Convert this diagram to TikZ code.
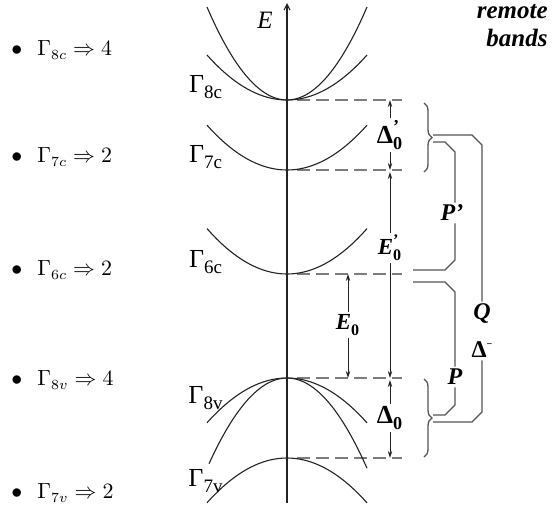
\documentclass[tikz,border=0pt]{standalone}
\usepackage{amsmath}
\usepackage{fontspec}
\newfontfamily\lblfont{Liberation Serif}
\usetikzlibrary{arrows.meta,decorations.pathreplacing}
\definecolor{BandGray}{RGB}{35,35,35}
\definecolor{DashGray}{RGB}{125,125,125}
\definecolor{LinkGray}{RGB}{85,85,85}

% band labels and gap labels
\newcommand{\gam}[1]{$\text{\lblfont\fontsize{13}{15}\selectfont Γ}_{\text{\lblfont\fontsize{9.5}{11}\selectfont #1}}$}
\newcommand{\gaplbl}[3]{$\text{\lblfont\bfseries #1}^{\text{\lblfont\bfseries #2}}_{\text{\lblfont\bfseries #3}}$}

\begin{document}
\begin{tikzpicture}[x=0.5pt,y=-0.5pt,
    band/.style={BandGray, line width=0.55pt},
    level/.style={DashGray, line width=0.6pt, dash pattern=on 6.5pt off 3pt},
    gap/.style={BandGray, line width=0.45pt, -{Stealth[length=3.5pt,width=2.2pt]}},
    link/.style={LinkGray, line width=0.65pt},
    item/.style={anchor=west, font=\fontsize{10.5}{12}\selectfont, inner sep=0pt},
    lbl/.style={font=\lblfont\fontsize{11.5}{13}\selectfont, inner sep=1pt}]
  \useasboundingbox (0,0) rectangle (552,509);

  % energy axis
  \coordinate (axbot) at (287,503);
  \coordinate (axtop) at (287,3);
  \draw[band, -{Straight Barb[length=3pt,width=3pt]}] (axbot) -- (axtop);
  \node[lbl, font=\lblfont\itshape\fontsize{12.5}{14}\selectfont] (elbl) at (265,20) {E};

  % band extrema and dashed levels
  \foreach \nm/\py in {g8c/100,g7c/170,g6c/274,g8v/378,g7v/458} {
    \coordinate (\nm) at (287,\py);
    \coordinate (\nm R) at (402,\py);
    \draw[level] ([xshift=5pt]\nm) -- (\nm R);
  }

  % conduction bands
  \draw[band] plot[domain=-80:80, smooth, samples=41] ({287+\x},{100-0.01453*\x*\x});
  \draw[band] plot[domain=-80:80, smooth, samples=41] ({287+\x},{100-0.00703*\x*\x});
  \draw[band] plot[domain=-80:80, smooth, samples=41] ({287+\x},{170-0.0070*\x*\x});
  \draw[band] plot[domain=-80:80, smooth, samples=41] ({287+\x},{274-0.0071*\x*\x});
  % valence bands
  \draw[band] plot[domain=-80:80, smooth, samples=41] ({287+\x},{378+0.0070*\x*\x});
  \draw[band] plot[domain=-78:80, smooth, samples=41] ({287+\x},{378+0.0141*\x*\x});
  \draw[band] plot[domain=-80:80, smooth, samples=41] ({287+\x},{458+0.0070*\x*\x});

  % band names
  \node[inner sep=0pt] (l8c) at (206,87) {\gam{8c}};
  \node[inner sep=0pt] (l7c) at (206,157) {\gam{7c}};
  \node[inner sep=0pt] (l6c) at (206,262) {\gam{6c}};
  \node[inner sep=0pt] (l8v) at (206,398) {\gam{8v}};
  \node[inner sep=0pt] (l7v) at (206,481) {\gam{7v}};

  % degeneracies
  \foreach \nm/\sym/\deg/\py in {i8c/8c/4/50, i7c/7c/2/157, i6c/6c/2/270, i8v/8v/4/380, i7v/7v/2/493}
    \node[item] (\nm) at (11,\py) {$\bullet$\hspace{7.5pt}$\Gamma_{\sym}\Rightarrow \deg$};

  % gaps
  \node[lbl, font=\lblfont\fontsize{13}{15}\selectfont] (d0p) at (390,135) {\gaplbl{Δ}{’}{0}};
  \draw[gap] (d0p) -- (g8c -| d0p);
  \draw[gap] (d0p) -- (g7c -| d0p);
  \node[lbl] (e0p) at (390,248) {\gaplbl{\itshape E}{’}{0}};
  \draw[gap] (e0p) -- ([yshift=-1pt]g7c -| e0p);
  \draw[gap] (e0p) -- (g8v -| e0p);
  \node[lbl, font=\lblfont\fontsize{13}{15}\selectfont] (d0) at (390,418) {\gaplbl{Δ}{}{0}};
  \draw[gap] (d0) -- ([yshift=-1pt]g8v -| d0);
  \draw[gap] (d0) -- (g7v -| d0);
  \node[lbl] (e0) at (348,325) {\gaplbl{\itshape E}{}{0}};
  \draw[gap] (e0) -- (g6c -| e0);
  \draw[gap] (e0) -- (g8v -| e0);

  % braces
  \coordinate (bu1) at (424,103);
  \coordinate (bu2) at (424,172);
  \coordinate (bl1) at (424,379);
  \coordinate (bl2) at (424,457);
  \draw[link, decorate, decoration={brace, amplitude=4pt}] (bu1) -- (bu2);
  \draw[link, decorate, decoration={brace, amplitude=4pt}] (bl1) -- (bl2);
  \coordinate (tipU) at (433,138);
  \coordinate (tipL) at (433,418);

  % couplings
  \node[lbl, font=\lblfont\bfseries\itshape\fontsize{12}{14}\selectfont] (pp) at (452,213) {P’};
  \node[lbl, font=\lblfont\bfseries\itshape\fontsize{12}{14}\selectfont] (p) at (455,377) {P};
  \node[lbl, align=center, font=\lblfont\bfseries\fontsize{12}{19}\selectfont] (q) at (482,331)
    {\textit{Q}\\Δ\raisebox{5pt}{\tiny\textminus}};
  \coordinate (lk6u) at (413,270);
  \coordinate (lk6d) at (413,282);

  \draw[link] ([yshift=-2pt]tipU) -- ++(12,0) -- ++(10,10) -- (pp.north -| 455,0);
  \draw[link] (pp.south -| 455,0) -- ([shift={(42,-10)}]lk6u) -- ([shift={(32,0)}]lk6u) -- (lk6u);
  \draw[link] (lk6d) -- ++(32,0) -- ++(10,10) -- (p.north);
  \draw[link] (p.south) -- ([shift={(22,-13)}]tipL) -- ([shift={(12,-3)}]tipL) -- ([yshift=1.5pt]tipL);
  \draw[link] ([yshift=1.5pt]tipU) -- ++(39,0) -- ++(10,10) -- (q.north);
  \draw[link] (q.south) -- ([shift={(49,-6)}]tipL) -- ([shift={(39,4)}]tipL) -- ([yshift=-2pt]tipL);

  % remote bands
  \node[anchor=north east, align=right, inner sep=0pt,
        font=\lblfont\bfseries\itshape\fontsize{12.5}{14}\selectfont] (rb) at (548,4) {remote\\bands};
\end{tikzpicture}
\end{document}
